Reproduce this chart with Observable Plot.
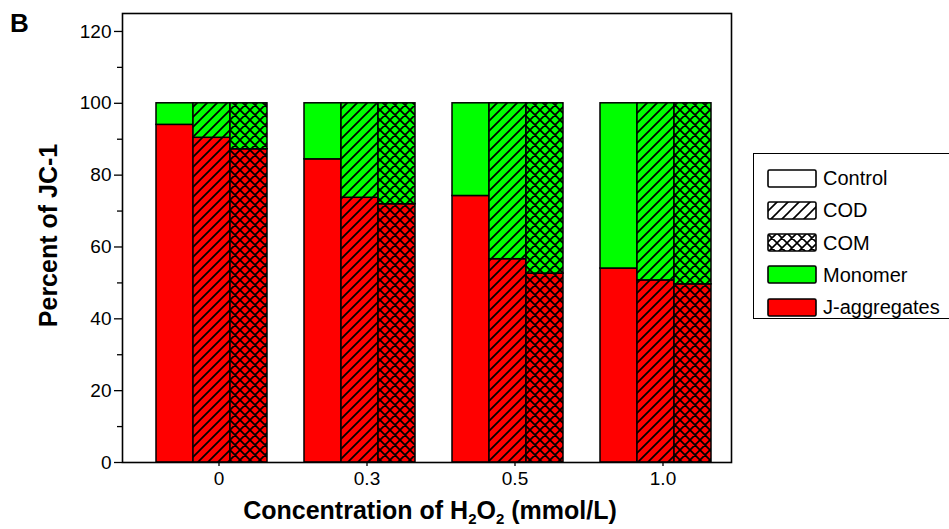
<!DOCTYPE html>
<html>
<head>
<meta charset="utf-8">
<script src="https://cdn.jsdelivr.net/npm/d3@7"></script>
<script src="https://cdn.jsdelivr.net/npm/@observablehq/plot@0.6"></script>
<style>
  html, body { margin: 0; padding: 0; background: #fff; }
  body { font-family: "Liberation Sans", Arial, Helvetica, sans-serif; color: #000; }
  #wrap { position: relative; width: 949px; height: 529px; overflow: hidden; }
  #chart svg { display: block; }
  .panel { position: absolute; left: 10px; top: 10px; font-size: 26px; line-height: 26px; font-weight: bold; }
  .ylab { position: absolute; left: -102px; top: 222.5px; width: 300px; text-align: center;
          font-size: 25px; line-height: 25px; font-weight: bold; transform: rotate(-90deg); white-space: nowrap; }
  .xlab { position: absolute; left: 130px; top: 498px; width: 600px; text-align: center;
          font-size: 25px; line-height: 25px; font-weight: bold; white-space: nowrap; }
  .xlab sub { font-size: 15px; vertical-align: -5px; line-height: 0; }
  #legend { position: absolute; left: 753px; top: 153px; width: 220px; height: 166px;
            border: 1.5px solid #000; box-sizing: border-box; background: #fff; }
  .item { position: absolute; left: 13px; height: 20px; display: flex; align-items: center; }
  .item svg { display: block; }
  .item span { margin-left: 6px; font-size: 20px; line-height: 20px; }
</style>
</head>
<body>
<svg width="0" height="0" style="position:absolute">
  <defs>
    <pattern id="hatchRed" patternUnits="userSpaceOnUse" width="10" height="10">
      <rect width="10" height="10" fill="#ff0000"/>
      <path d="M0,10 L10,0 M-2,2 L2,-2 M8,12 L12,8" stroke="#000" stroke-width="1.7"/>
    </pattern>
    <pattern id="hatchGreen" patternUnits="userSpaceOnUse" width="10" height="10">
      <rect width="10" height="10" fill="#00ff00"/>
      <path d="M0,10 L10,0 M-2,2 L2,-2 M8,12 L12,8" stroke="#000" stroke-width="1.7"/>
    </pattern>
    <pattern id="hatchWhite" patternUnits="userSpaceOnUse" width="11" height="11">
      <rect width="11" height="11" fill="#ffffff"/>
      <path d="M0,11 L11,0 M-2,2 L2,-2 M9,13 L13,9" stroke="#000" stroke-width="1.6"/>
    </pattern>
    <pattern id="crossRed" patternUnits="userSpaceOnUse" width="10" height="10">
      <rect width="10" height="10" fill="#ff0000"/>
      <path d="M0,10 L10,0 M-2,2 L2,-2 M8,12 L12,8 M0,0 L10,10 M-2,8 L2,12 M8,-2 L12,2" stroke="#000" stroke-width="1.7"/>
    </pattern>
    <pattern id="crossGreen" patternUnits="userSpaceOnUse" width="10" height="10">
      <rect width="10" height="10" fill="#00ff00"/>
      <path d="M0,10 L10,0 M-2,2 L2,-2 M8,12 L12,8 M0,0 L10,10 M-2,8 L2,12 M8,-2 L12,2" stroke="#000" stroke-width="1.7"/>
    </pattern>
    <pattern id="crossWhite" patternUnits="userSpaceOnUse" width="10" height="10">
      <rect width="10" height="10" fill="#ffffff"/>
      <path d="M0,10 L10,0 M-2,2 L2,-2 M8,12 L12,8 M0,0 L10,10 M-2,8 L2,12 M8,-2 L12,2" stroke="#000" stroke-width="1.6"/>
    </pattern>
  </defs>
</svg>

<div id="wrap">
  <div id="chart"></div>
  <div class="panel">B</div>
  <div class="ylab">Percent of JC-1</div>
  <div class="xlab">Concentration of H<sub>2</sub>O<sub>2</sub> (mmol/L)</div>
  <div id="legend"></div>
</div>

<script>
// ---- data ----
const concentrations = ["0", "0.3", "0.5", "1.0"];
const treatments = ["Control", "COD", "COM"];
const components = ["J-aggregates", "Monomer"];

const jAggregatesControl = [94.0, 84.4, 74.2, 54.0];
const jAggregatesCOD     = [90.4, 73.7, 56.6, 50.7];
const jAggregatesCOM     = [87.2, 71.9, 52.6, 49.6];
const monomerControl     = [6.0, 15.6, 25.8, 46.0];
const monomerCOD         = [9.6, 26.3, 43.4, 49.3];
const monomerCOM         = [12.8, 28.1, 47.4, 50.4];

const yTicks = [0, 20, 40, 60, 80, 100, 120];
const yMinorTicks = [10, 30, 50, 70, 90, 110];

const legendLabels = ["Control", "COD", "COM", "Monomer", "J-aggregates"];

// ---- build table ----
const series = {
  "J-aggregates": { Control: jAggregatesControl, COD: jAggregatesCOD, COM: jAggregatesCOM },
  "Monomer":      { Control: monomerControl,     COD: monomerCOD,     COM: monomerCOM }
};
const data = [];
concentrations.forEach((c, i) => {
  treatments.forEach(t => {
    components.forEach(comp => {
      data.push({ conc: c, treatment: t, component: comp,
                  key: c + "|" + t, fillKey: comp + "|" + t,
                  value: series[comp][t][i] });
    });
  });
});

// x domain: bars of each group with a spacer band between groups
const xDomain = concentrations.flatMap((c, i) =>
  [...(i ? ["gap" + i] : []), ...treatments.map(t => c + "|" + t)]);
const xTickKeys = concentrations.map(c => c + "|COD");

const fillKeys = [
  "J-aggregates|Control", "J-aggregates|COD", "J-aggregates|COM",
  "Monomer|Control", "Monomer|COD", "Monomer|COM"
];
const fillValues = [
  "#ff0000", "url(#hatchRed)", "url(#crossRed)",
  "#00ff00", "url(#hatchGreen)", "url(#crossGreen)"
];

const plot = Plot.plot({
  width: 949,
  height: 529,
  marginLeft: 122,
  marginRight: 218,
  marginTop: 13,
  marginBottom: 67,
  style: { fontFamily: '"Liberation Sans", Arial, sans-serif', fontSize: "19px", color: "#000", background: "#fff" },
  x: { domain: xDomain, paddingInner: 0, paddingOuter: 0.66, align: 0.63, label: null },
  y: { domain: [0, 125], label: null },
  color: { type: "ordinal", domain: fillKeys, range: fillValues, legend: false },
  marks: [
    Plot.barY(data, Plot.stackY({
      x: "key", y: "value", fill: "fillKey", order: null,
      stroke: "#000", strokeWidth: 1.5
    })),
    Plot.frame({ stroke: "#000", strokeWidth: 1.6 }),
    Plot.axisY(yTicks, { tickSize: 8, tickPadding: 3, fontSize: 19, label: null, stroke: "#000", strokeWidth: 1.3 }),
    Plot.axisY(yMinorTicks, { tickSize: 5, tickFormat: () => "", label: null, stroke: "#000", strokeWidth: 1.3 }),
    Plot.axisX(xTickKeys, { tickSize: 4, tickPadding: 5, fontSize: 19, label: null, dx: 7,
                            tickFormat: k => k.split("|")[0], stroke: "#000", strokeWidth: 1.3 })
  ]
});
document.getElementById("chart").appendChild(plot);

// ---- legend ----
const legendFills = {
  "Control": "#ffffff", "COD": "url(#hatchWhite)", "COM": "url(#crossWhite)",
  "Monomer": "#00ff00", "J-aggregates": "#ff0000"
};
const legend = d3.select("#legend");
legendLabels.forEach((lab, i) => {
  const item = legend.append("div").attr("class", "item").style("top", (14 + i * 32.3) + "px");
  const s = item.append("svg").attr("width", 50).attr("height", 19);
  s.append("rect").attr("x", 1).attr("y", 1).attr("width", 48).attr("height", 17)
    .attr("rx", 1.5).attr("fill", legendFills[lab]).attr("stroke", "#000").attr("stroke-width", 1.6);
  item.append("span").text(lab);
});
</script>
</body>
</html>
